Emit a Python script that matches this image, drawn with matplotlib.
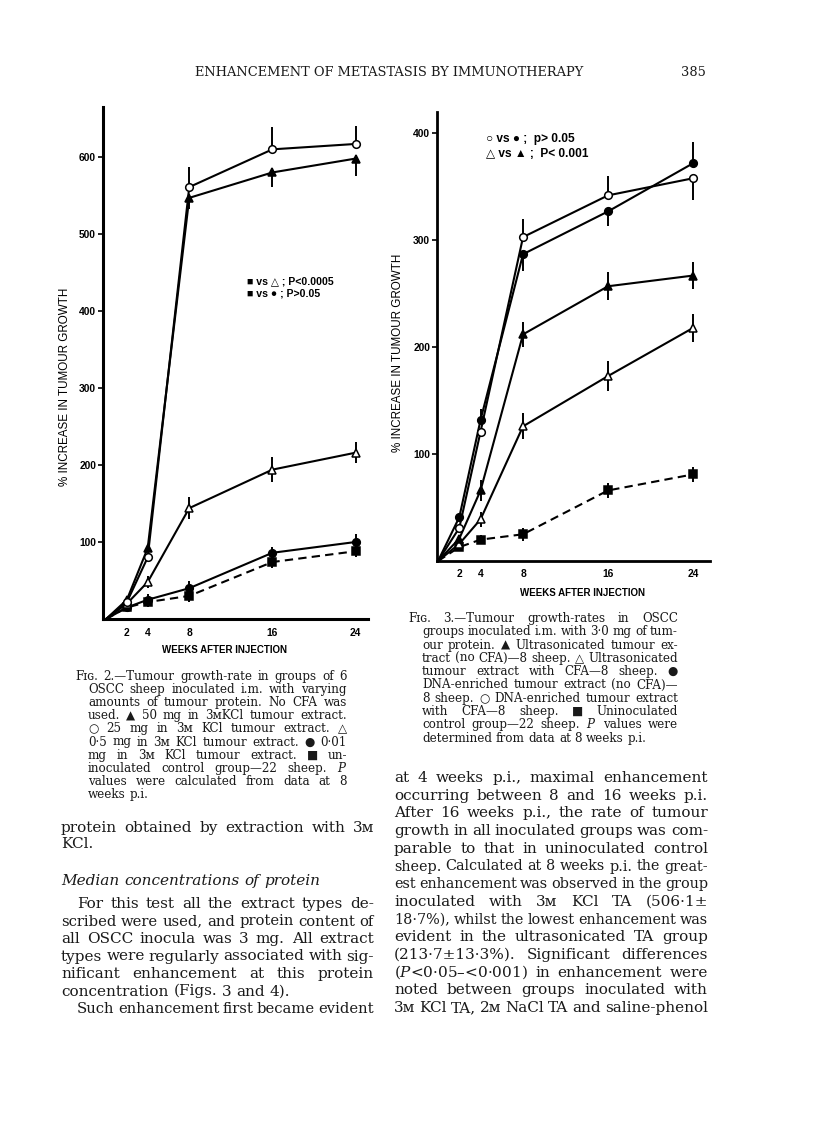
import matplotlib.pyplot as plt

# page size in pixels (dpi 100)
W, H = 816, 1136

# Fig. 2 data: % increase in tumour growth vs weeks
weeks = [0, 2, 4, 8, 16, 24]
f2_tri_50 = [0, 25, 92, 547, 580, 598]
f2_tri_50_lo = [0, 0, 0, 15, 19, 22]
f2_tri_50_hi = [0, 0, 0, 0, 0, 0]
f2_circ_25 = [0, 22, 80, 561, 610, 617]
f2_circ_25_lo = [0, 0, 0, 0, 0, 0]
f2_circ_25_hi = [0, 0, 0, 26, 29, 23]
f2_tri_05 = [0, 20, 48, 144, 194, 216]
f2_tri_05_err = [0, 0, 8, 14, 16, 14]
f2_circ_001 = [0, 15, 25, 40, 86, 100]
f2_circ_001_err = [0, 0, 8, 10, 8, 10]
f2_ctrl = [0, 15, 22, 30, 74, 88]
f2_ctrl_err = [0, 0, 6, 8, 8, 8]

# Fig. 3 data
f3_circ_open = [0, 31, 121, 303, 342, 358]
f3_circ_open_lo = [0, 0, 0, 0, 0, 20]
f3_circ_open_hi = [0, 0, 0, 17, 18, 0]
f3_circ_fill = [0, 41, 132, 287, 327, 372]
f3_circ_fill_lo = [0, 0, 0, 16, 14, 0]
f3_circ_fill_hi = [0, 0, 10, 0, 0, 20]
f3_tri_fill = [0, 21, 66, 212, 257, 267]
f3_tri_fill_err = [0, 0, 10, 12, 13, 13]
f3_tri_open = [0, 16, 39, 126, 173, 218]
f3_tri_open_err = [0, 0, 7, 12, 14, 13]
f3_ctrl = [0, 13, 20, 25, 66, 81]
f3_ctrl_err = [0, 0, 4, 6, 7, 7]

xticks = [2, 4, 8, 16, 24]
f2_yticks = [100, 200, 300, 400, 500, 600]
f3_yticks = [100, 200, 300, 400]

plt.rcParams['mathtext.fontset'] = 'dejavuserif'
SERIF = ['DejaVu Serif', 'DejaVu Sans']
SANS = ['Liberation Sans', 'DejaVu Sans']
INK = '#1a1a1a'

fig = plt.figure(figsize=(W / 100, H / 100), dpi=100)
renderer = fig.canvas.get_renderer()


def box(left, top, right, bottom):
    return [left / W, 1 - bottom / H, (right - left) / W, (bottom - top) / H]


def series(ax, y, lo, hi, marker, face, dashed=False):
    ax.errorbar(weeks, y, yerr=[lo, hi], fmt='none', ecolor='black',
                elinewidth=1.4, capsize=0, zorder=2)
    ax.plot(weeks, y, color='black', lw=1.5, ls=(0, (4, 2.5)) if dashed else '-',
            marker=marker, ms=5.5, mfc=face, mec='black', mew=1.1,
            markevery=[1, 2, 3, 4, 5], zorder=3)


def style_axes(ax, yticks, spine_w, xpad):
    for s in ['top', 'right']:
        ax.spines[s].set_visible(False)
    for s in ['left', 'bottom']:
        ax.spines[s].set_linewidth(spine_w)
    ax.set_xticks(xticks)
    ax.set_yticks(yticks)
    ax.tick_params(axis='x', length=0, pad=xpad)
    ax.tick_params(axis='y', length=3.5, width=1.2, pad=1.5)
    for lab in ax.get_xticklabels() + ax.get_yticklabels():
        lab.set_fontfamily(SANS)
        lab.set_fontweight('bold')
        lab.set_fontsize(7.4)
    ax.set_facecolor('none')


# ---- Fig. 2 ----
ax2 = fig.add_axes(box(103, 107, 368, 619))
ax2.set_xlim(-0.3, 25.2)
ax2.set_ylim(0, 665)
series(ax2, f2_ctrl, f2_ctrl_err, f2_ctrl_err, 's', 'black', dashed=True)
series(ax2, f2_circ_001, f2_circ_001_err, f2_circ_001_err, 'o', 'black')
series(ax2, f2_tri_05, f2_tri_05_err, f2_tri_05_err, '^', 'white')
series(ax2, f2_tri_50, f2_tri_50_lo, f2_tri_50_hi, '^', 'black')
series(ax2, f2_circ_25, f2_circ_25_lo, f2_circ_25_hi, 'o', 'white')
style_axes(ax2, f2_yticks, 2.2, 6.5)

fig.text(247 / W, 1 - 281 / H, '■ vs △ ; P<0.0005', fontsize=7.6, family=SANS,
         weight='bold', va='center')
fig.text(247 / W, 1 - 294 / H, '■ vs ● ; P>0.05', fontsize=7.6, family=SANS,
         weight='bold', va='center')
fig.text(65 / W, 1 - 387 / H, '% INCREASE IN TUMOUR GROWTH', rotation=90,
         fontsize=8.4, family=SANS, ha='center', va='center')
fig.text(224 / W, 1 - 650 / H, 'WEEKS AFTER INJECTION', fontsize=7,
         family=SANS, weight='bold', ha='center', va='center')

# ---- Fig. 3 ----
ax3 = fig.add_axes(box(437, 112, 710, 561))
ax3.set_xlim(-0.1, 25.6)
ax3.set_ylim(0, 420)
series(ax3, f3_ctrl, f3_ctrl_err, f3_ctrl_err, 's', 'black', dashed=True)
series(ax3, f3_tri_open, f3_tri_open_err, f3_tri_open_err, '^', 'white')
series(ax3, f3_tri_fill, f3_tri_fill_err, f3_tri_fill_err, '^', 'black')
series(ax3, f3_circ_fill, f3_circ_fill_lo, f3_circ_fill_hi, 'o', 'black')
series(ax3, f3_circ_open, f3_circ_open_lo, f3_circ_open_hi, 'o', 'white')
style_axes(ax3, f3_yticks, 2.0, 6)

fig.text(486 / W, 1 - 139 / H, '○ vs ● ;  p> 0.05', fontsize=8.6, family=SANS,
         weight='bold', va='center')
fig.text(486 / W, 1 - 154 / H, '△ vs ▲ ;  P< 0.001', fontsize=8.6, family=SANS,
         weight='bold', va='center')
fig.text(398 / W, 1 - 353 / H, '% INCREASE IN TUMOUR GROWTH', rotation=90,
         fontsize=8.4, family=SANS, ha='center', va='center')
fig.text(582 / W, 1 - 593 / H, 'WEEKS AFTER INJECTION', fontsize=7,
         family=SANS, weight='bold', ha='center', va='center')


# ---- page text ----
def put_line(s, x0, x1, y, size, justify=True, style='normal'):
    words = s.split()
    texts = [fig.text(0, 1 - y / H, w, fontsize=size, family=SERIF, style=style,
                      va='baseline', ha='left', color=INK) for w in words]
    while True:
        widths = [t.get_window_extent(renderer).width for t in texts]
        min_gap = size * 0.22 * 100 / 72
        if justify and len(words) > 1:
            gap = (x1 - x0 - sum(widths)) / (len(words) - 1)
            if gap < min_gap:
                size *= 0.97
                for t in texts:
                    t.set_fontsize(size)
                continue
        else:
            gap = size * 0.32 * 100 / 72
        break
    x = x0
    for t, w in zip(texts, widths):
        t.set_x(x / W)
        x += w + gap


def put_caption(lines, x_first, x_rest, x_right, y0, dy, size):
    for i, s in enumerate(lines):
        x0 = x_first if i == 0 else x_rest
        put_line(s, x0, x_right, y0 + i * dy, size, justify=(i < len(lines) - 1))


fig.text(389 / W, 1 - 76 / H, 'ENHANCEMENT OF METASTASIS BY IMMUNOTHERAPY',
         fontsize=9.4, family=SERIF, ha='center', va='baseline', color=INK)
fig.text(706 / W, 1 - 76 / H, '385', fontsize=9.4, family=SERIF, ha='right',
         va='baseline', color=INK)

cap2 = [
    'Fɪɢ. 2.—Tumour growth-rate in groups of 6',
    'OSCC sheep inoculated i.m. with varying',
    'amounts of tumour protein. No CFA was',
    'used. ▲ 50 mg in 3ᴍKCl tumour extract.',
    '○ 25 mg in 3ᴍ KCl tumour extract. △',
    '0·5 mg in 3ᴍ KCl tumour extract. ● 0·01',
    'mg in 3ᴍ KCl tumour extract. ■ un-',
    'inoculated control group—22 sheep. $P$',
    'values were calculated from data at 8',
    'weeks p.i.',
]
put_caption(cap2, 75, 88, 347, 680, 13.1, 8.6)

cap3 = [
    'Fɪɢ. 3.—Tumour growth-rates in OSCC',
    'groups inoculated i.m. with 3·0 mg of tum-',
    'our protein. ▲ Ultrasonicated tumour ex-',
    'tract (no CFA)—8 sheep. △ Ultrasonicated',
    'tumour extract with CFA—8 sheep. ●',
    'DNA-enriched tumour extract (no CFA)—',
    '8 sheep. ○ DNA-enriched tumour extract',
    'with CFA—8 sheep. ■ Uninoculated',
    'control group—22 sheep. $P$ values were',
    'determined from data at 8 weeks p.i.',
]
put_caption(cap3, 408, 422, 678, 622, 13.3, 8.6)

BODY = 11
L0, L1 = 61, 374
put_line('protein obtained by extraction with 3ᴍ', L0, L1, 832, BODY)
put_line('KCl.', L0, L1, 848, BODY, justify=False)
put_line('Median concentrations of protein', L0, L1, 885, BODY, justify=False, style='italic')
para = [
    'For this test all the extract types de-',
    'scribed were used, and protein content of',
    'all OSCC inocula was 3 mg. All extract',
    'types were regularly associated with sig-',
    'nificant enhancement at this protein',
    'concentration (Figs. 3 and 4).',
]
for i, s in enumerate(para):
    x0 = L0 + 16 if i == 0 else L0
    put_line(s, x0, L1, 908 + i * 17.5, BODY, justify=(i < len(para) - 1))
put_line('Such enhancement first became evident', L0 + 16, L1, 1013, BODY)

R0, R1 = 394, 708
right = [
    'at 4 weeks p.i., maximal enhancement',
    'occurring between 8 and 16 weeks p.i.',
    'After 16 weeks p.i., the rate of tumour',
    'growth in all inoculated groups was com-',
    'parable to that in uninoculated control',
    'sheep. Calculated at 8 weeks p.i. the great-',
    'est enhancement was observed in the group',
    'inoculated with 3ᴍ KCl TA (506·1±',
    '18·7%), whilst the lowest enhancement was',
    'evident in the ultrasonicated TA group',
    '(213·7±13·3%). Significant differences',
    '($P$<0·05–<0·001) in enhancement were',
    'noted between groups inoculated with',
    '3ᴍ KCl TA, 2ᴍ NaCl TA and saline-phenol',
]
for i, s in enumerate(right):
    put_line(s, R0, R1, 782 + i * 17.7, BODY)

fig.savefig('out.png', dpi=100)
